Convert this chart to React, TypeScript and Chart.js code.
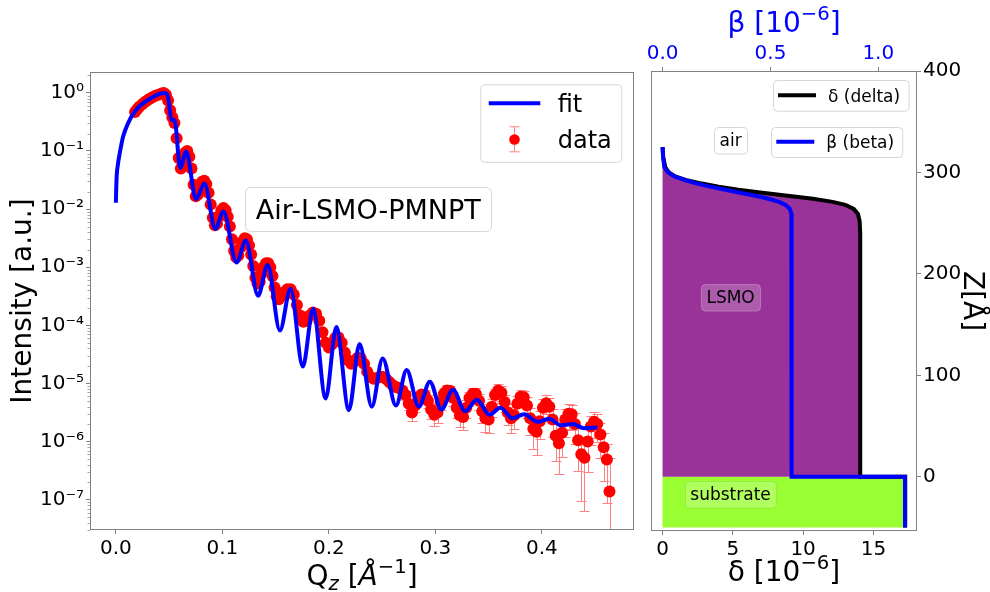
import { useEffect, useRef } from 'react';
import { Chart, registerables } from 'chart.js';

Chart.register(...registerables);

const FONT = "'DejaVu Sans', 'Liberation Sans', sans-serif";
const SPINE = '#808080';
const ERR_COLOR = '#ff8080';
Chart.defaults.font.family = FONT;

// ---------------- Left panel: reflectivity ----------------
const fitQ = [0.0, 0.0006, 0.002, 0.0037, 0.0068, 0.0115, 0.0177, 0.0255, 0.0348, 0.042, 0.046, 0.048, 0.0498, 0.052, 0.0551, 0.0604, 0.066, 0.0753, 0.0831, 0.0934, 0.101, 0.1133, 0.122, 0.1335, 0.1425, 0.154, 0.164, 0.1755, 0.1852, 0.197, 0.207, 0.2188, 0.2288, 0.2403, 0.2505, 0.263, 0.273, 0.2845, 0.2948, 0.3056, 0.3165, 0.328, 0.339, 0.3508, 0.361, 0.3725, 0.3834, 0.3959, 0.4068, 0.4177, 0.4286, 0.4395, 0.452];
const fitLog10I = [-1.89, -1.49, -1.22, -1.03, -0.75, -0.52, -0.32, -0.18, -0.07, -0.01, 0.0, -0.02, -0.17, -0.46, -0.47, -1.29, -1.01, -1.83, -1.56, -2.34, -2.04, -2.92, -2.54, -3.49, -2.96, -4.09, -3.37, -4.71, -3.72, -5.26, -4.03, -5.46, -4.32, -5.40, -4.57, -5.38, -4.77, -5.40, -4.97, -5.45, -5.11, -5.48, -5.28, -5.54, -5.42, -5.60, -5.53, -5.66, -5.61, -5.72, -5.70, -5.77, -5.76];

const dataQ = [
  0.018, 0.020, 0.022, 0.025, 0.028, 0.031, 0.034, 0.037, 0.040, 0.043,
  0.045, 0.047, 0.049, 0.051, 0.053, 0.055, 0.057, 0.059, 0.061, 0.063,
  0.065, 0.067, 0.069, 0.071, 0.073, 0.075, 0.077, 0.079, 0.081, 0.083,
  0.085, 0.087, 0.089, 0.091, 0.093, 0.095, 0.097, 0.099, 0.101, 0.103,
  0.105, 0.107, 0.109, 0.111, 0.113, 0.115, 0.117, 0.119, 0.121, 0.123,
  0.125, 0.127, 0.129, 0.131, 0.133, 0.135, 0.137, 0.139, 0.141, 0.143,
  0.145, 0.147, 0.149, 0.151, 0.153, 0.155, 0.158, 0.161, 0.164, 0.167,
  0.170, 0.173, 0.176, 0.179, 0.182, 0.185, 0.188, 0.191, 0.194, 0.197,
  0.200, 0.203, 0.206, 0.209, 0.212, 0.215, 0.218, 0.221, 0.224, 0.227,
  0.230, 0.233, 0.236, 0.239, 0.242, 0.245, 0.248, 0.251, 0.254, 0.257,
  0.260, 0.263, 0.266, 0.269, 0.272, 0.275, 0.278, 0.281, 0.284, 0.287,
  0.290, 0.293, 0.296, 0.299, 0.302, 0.305, 0.308, 0.311, 0.314, 0.317,
  0.320, 0.323, 0.326, 0.329, 0.332, 0.335, 0.338, 0.341, 0.344, 0.347,
  0.350, 0.353, 0.356, 0.359, 0.362, 0.365, 0.368, 0.371, 0.374, 0.377,
  0.380, 0.383, 0.386, 0.389, 0.392, 0.395, 0.398, 0.401, 0.404, 0.407,
  0.410, 0.413, 0.416, 0.419, 0.422, 0.425, 0.428, 0.431, 0.434, 0.437,
  0.440, 0.443, 0.446, 0.449, 0.452, 0.455, 0.458, 0.461, 0.4635,
];
const dataLog10I = [
  -0.33, -0.28, -0.24, -0.19, -0.15, -0.11, -0.08, -0.05, -0.03, -0.01,
  0.00, -0.03, -0.13, -0.30, -0.42, -0.52, -0.78, -1.12, -1.30, -1.18,
  -1.03, -1.00, -1.10, -1.30, -1.58, -1.78, -1.75, -1.62, -1.53, -1.51,
  -1.57, -1.72, -1.92, -2.15, -2.28, -2.25, -2.12, -2.02, -1.98, -2.02,
  -2.13, -2.30, -2.52, -2.72, -2.83, -2.80, -2.66, -2.56, -2.50, -2.52,
  -2.62, -2.78, -2.98, -3.18, -3.28, -3.25, -3.10, -2.99, -2.93, -2.93,
  -3.00, -3.15, -3.35, -3.50, -3.55, -3.50, -3.43, -3.38, -3.38, -3.47,
  -3.65, -3.83, -3.94, -3.92, -3.83, -3.78, -3.80, -3.92, -4.12, -4.30,
  -4.38, -4.32, -4.22, -4.21, -4.30, -4.47, -4.60, -4.66, -4.62, -4.56,
  -4.57, -4.66, -4.80, -4.89, -4.92, -4.91, -4.88, -4.89, -4.93, -4.98,
  -5.03, -5.06, -5.08, -5.12, -5.20, -5.35, -5.50, -5.38, -5.24, -5.19,
  -5.20, -5.30, -5.45, -5.54, -5.50, -5.32, -5.18, -5.12, -5.13, -5.25,
  -5.42, -5.55, -5.58, -5.42, -5.25, -5.18, -5.18, -5.30, -5.48, -5.60,
  -5.62, -5.40, -5.20, -5.12, -5.16, -5.32, -5.50, -5.60, -5.55, -5.35,
  -5.23, -5.24, -5.38, -5.60, -5.78, -5.83, -5.65, -5.42, -5.34, -5.40,
  -5.62, -5.90, -6.03, -5.85, -5.62, -5.52, -5.53, -5.70, -5.98, -6.22,
  -6.28, -6.00, -5.74, -5.66, -5.70, -5.88, -6.10, -6.31, -6.86,
];
const dataRelErr = [
  0.04, 0.04, 0.04, 0.04, 0.04, 0.04, 0.04, 0.04, 0.04, 0.04,
  0.04, 0.04, 0.04, 0.04, 0.04, 0.04, 0.04, 0.04, 0.04, 0.04,
  0.04, 0.04, 0.04, 0.04, 0.04, 0.04, 0.04, 0.04, 0.04, 0.04,
  0.04, 0.04, 0.04, 0.04, 0.04, 0.04, 0.04, 0.04, 0.04, 0.04,
  0.04, 0.04, 0.04, 0.04, 0.04, 0.04, 0.04, 0.04, 0.04, 0.04,
  0.04, 0.04, 0.04, 0.04, 0.04, 0.04, 0.04, 0.04, 0.04, 0.04,
  0.04, 0.04, 0.04, 0.04, 0.04, 0.04, 0.04, 0.04, 0.04, 0.04,
  0.04, 0.04, 0.04, 0.04, 0.04, 0.04, 0.04, 0.04, 0.04, 0.04,
  0.04, 0.04, 0.04, 0.04, 0.04, 0.04, 0.04, 0.04, 0.04, 0.04,
  0.05, 0.05, 0.05, 0.06, 0.06, 0.06, 0.06, 0.07, 0.08, 0.10,
  0.12, 0.14, 0.15, 0.16, 0.18, 0.22, 0.28, 0.24, 0.20, 0.18,
  0.20, 0.24, 0.30, 0.35, 0.34, 0.28, 0.24, 0.22, 0.22, 0.26,
  0.32, 0.38, 0.40, 0.34, 0.28, 0.26, 0.27, 0.30, 0.36, 0.42,
  0.42, 0.34, 0.28, 0.27, 0.28, 0.33, 0.40, 0.44, 0.42, 0.34,
  0.30, 0.31, 0.38, 0.48, 0.56, 0.60, 0.50, 0.40, 0.36, 0.40,
  0.50, 0.64, 0.70, 0.62, 0.50, 0.45, 0.46, 0.55, 0.70, 0.84,
  0.88, 0.70, 0.52, 0.48, 0.50, 0.60, 0.74, 0.82, 2.70,
];

// ---------------- Right panel: optical profile ----------------
const profileZ = [325, 315, 305, 300, 296, 292, 289, 286, 283, 280, 277, 274, 271, 268, 264, 259, 252, 240, 0, 0, -50];
const deltaProfile = [0, 0.05, 0.2, 0.45, 0.9, 1.8, 2.8, 4.0, 5.4, 7.1, 8.9, 10.7, 12.1, 13.0, 13.6, 13.9, 14.02, 14.06, 14.06, 17.26, 17.26];
const betaProfile = [0, 0.002, 0.008, 0.025, 0.055, 0.11, 0.16, 0.22, 0.29, 0.36, 0.43, 0.49, 0.54, 0.57, 0.59, 0.597, 0.598, 0.598, 0.598, 1.124, 1.124];

// ---------------- helpers ----------------
const SUPER: Record<string, string> = { '-': '⁻', '0': '⁰', '1': '¹', '2': '²', '3': '³', '4': '⁴', '5': '⁵', '6': '⁶', '7': '⁷', '8': '⁸', '9': '⁹' };
const sup = (n: number) => String(n).split('').map((c) => SUPER[c] ?? c).join('');
const isDecade = (v: number) => { const l = Math.log10(v); return Math.abs(l - Math.round(l)) < 1e-6; };
const isLogStep = (v: number) => { const e = Math.floor(Math.log10(v) + 1e-9); const m = v / Math.pow(10, e); return Math.abs(m - Math.round(m)) < 1e-6; };

type Run = { t: string; s: number; it?: boolean; dy?: number };
function drawRuns(ctx: CanvasRenderingContext2D, runs: Run[], cx: number, by: number, rot: number, color: string) {
  ctx.save();
  ctx.translate(cx, by);
  ctx.rotate(rot);
  ctx.fillStyle = color;
  ctx.textBaseline = 'alphabetic';
  ctx.textAlign = 'left';
  const fontOf = (r: Run) => `${r.it ? 'italic ' : ''}${r.s}px ${FONT}`;
  const ws = runs.map((r) => { ctx.font = fontOf(r); return ctx.measureText(r.t).width; });
  let x = -ws.reduce((a, b) => a + b, 0) / 2;
  runs.forEach((r, i) => { ctx.font = fontOf(r); ctx.fillText(r.t, x, r.dy || 0); x += ws[i]; });
  ctx.restore();
}

function roundBox(ctx: CanvasRenderingContext2D, x: number, y: number, w: number, h: number, r: number, fill: string, stroke: string) {
  ctx.beginPath();
  ctx.moveTo(x + r, y);
  ctx.lineTo(x + w - r, y);
  ctx.arcTo(x + w, y, x + w, y + r, r);
  ctx.lineTo(x + w, y + h - r);
  ctx.arcTo(x + w, y + h, x + w - r, y + h, r);
  ctx.lineTo(x + r, y + h);
  ctx.arcTo(x, y + h, x, y + h - r, r);
  ctx.lineTo(x, y + r);
  ctx.arcTo(x, y, x + r, y, r);
  ctx.closePath();
  if (fill) { ctx.fillStyle = fill; ctx.fill(); }
  if (stroke) { ctx.strokeStyle = stroke; ctx.lineWidth = 1; ctx.stroke(); }
}

const tickGrid = (color: any) => ({ display: true, drawOnChartArea: false, drawTicks: true, tickLength: 4, tickColor: color, tickWidth: 1 });

function buildLeft(canvas: HTMLCanvasElement) {
  const fitPts = fitQ.map((q, i) => ({ x: q, y: Math.pow(10, fitLog10I[i]) }));
  const dataPts = dataQ.map((q, i) => ({ x: q, y: Math.pow(10, dataLog10I[i]) }));

  const errorBars = {
    id: 'errorBars',
    beforeDatasetDraw(chart: any, args: any) {
      if (args.index !== 1) return;
      const { ctx, chartArea: a } = chart;
      const xs = chart.scales.x, ys = chart.scales.y;
      ctx.save();
      ctx.beginPath();
      ctx.rect(a.left, a.top, a.right - a.left, a.bottom - a.top);
      ctx.clip();
      ctx.strokeStyle = ERR_COLOR;
      ctx.lineWidth = 1;
      dataPts.forEach((p, i) => {
        const e = p.y * dataRelErr[i];
        const px = Math.round(xs.getPixelForValue(p.x)) + 0.5;
        const hasLo = p.y - e > 0;
        const lo = hasLo ? Math.round(ys.getPixelForValue(p.y - e)) + 0.5 : a.bottom + 20;
        const hi = Math.round(ys.getPixelForValue(p.y + e)) + 0.5;
        ctx.beginPath();
        ctx.moveTo(px, lo); ctx.lineTo(px, hi);
        ctx.moveTo(px - 5, hi); ctx.lineTo(px + 5, hi);
        if (hasLo) { ctx.moveTo(px - 5, lo); ctx.lineTo(px + 5, lo); }
        ctx.stroke();
      });
      ctx.restore();
    },
  };

  const decor = {
    id: 'decorLeft',
    afterDraw(chart: any) {
      const { ctx, chartArea: a } = chart;
      const xs = chart.scales.x, ys = chart.scales.y;
      ctx.save();
      // minor log ticks
      ctx.strokeStyle = SPINE;
      ctx.lineWidth = 0.7;
      for (const t of ys.ticks) {
        if (isDecade(t.value) || !isLogStep(t.value)) continue;
        const py = Math.round(ys.getPixelForValue(t.value)) + 0.5;
        ctx.beginPath(); ctx.moveTo(a.left - 2.5, py); ctx.lineTo(a.left, py); ctx.stroke();
      }
      // frame
      ctx.lineWidth = 1;
      ctx.strokeRect(a.left + 0.5, a.top + 0.5, a.right - a.left - 1, a.bottom - a.top - 1);

      // legend
      const lx = a.right - 153.7, ly = a.top + 12.3;
      roundBox(ctx, lx + 0.5, ly + 0.5, 141, 77.5, 4, 'rgba(255,255,255,0.8)', '#d6d6d6');
      ctx.strokeStyle = '#0000ff'; ctx.lineWidth = 4;
      ctx.beginPath(); ctx.moveTo(lx + 8.4, ly + 19); ctx.lineTo(lx + 60, ly + 19); ctx.stroke();
      ctx.strokeStyle = ERR_COLOR; ctx.lineWidth = 1;
      const mx = Math.round(lx + 34) + 0.5;
      ctx.beginPath();
      ctx.moveTo(mx, ly + 42.5); ctx.lineTo(mx, ly + 67.5);
      ctx.moveTo(mx - 5, ly + 42.5); ctx.lineTo(mx + 5, ly + 42.5);
      ctx.moveTo(mx - 5, ly + 67.5); ctx.lineTo(mx + 5, ly + 67.5);
      ctx.stroke();
      ctx.fillStyle = '#ff0000';
      ctx.beginPath(); ctx.arc(mx, ly + 55.2, 5.3, 0, Math.PI * 2); ctx.fill();
      ctx.fillStyle = '#000';
      ctx.font = `24px ${FONT}`;
      ctx.textAlign = 'left'; ctx.textBaseline = 'alphabetic';
      ctx.fillText('fit', lx + 77.4, ly + 27.4);
      ctx.fillText('data', lx + 77.4, ly + 64);

      // sample label
      const label = 'Air-LSMO-PMNPT';
      ctx.font = `27px ${FONT}`;
      const tw = ctx.measureText(label).width;
      const cx = xs.getPixelForValue(0.237), cy = ys.getPixelForValue(0.01);
      roundBox(ctx, Math.round(cx - tw / 2 - 10.5) + 0.5, Math.round(cy - 22) + 0.5, Math.round(tw + 21), 44, 5, 'rgba(255,255,255,0.9)', '#d6d6d6');
      ctx.fillStyle = '#000';
      ctx.textAlign = 'center';
      ctx.fillText(label, cx, cy + 9.8);

      // axis titles
      drawRuns(ctx, [{ t: 'Intensity [a.u.]', s: 28 }], 31.3, (a.top + a.bottom) / 2, -Math.PI / 2, '#000');
      drawRuns(ctx, [
        { t: 'Q', s: 28 }, { t: 'z', s: 19.6, it: true, dy: 5 }, { t: ' [', s: 28 },
        { t: 'Å', s: 28, it: true }, { t: '−1', s: 19.6, dy: -12 }, { t: ']', s: 28 },
      ], (a.left + a.right) / 2, 585, 0, '#000');
      ctx.restore();
    },
  };

  return new Chart(canvas, {
    type: 'line',
    data: {
      datasets: [
        { label: 'fit', data: fitPts, borderColor: '#0000ff', borderWidth: 4, pointRadius: 0, cubicInterpolationMode: 'monotone', fill: false, order: 0, borderJoinStyle: 'round' } as any,
        { label: 'data', data: dataPts, showLine: false, pointRadius: 6, pointBackgroundColor: '#ff0000', pointBorderColor: '#ff0000', pointBorderWidth: 0, order: 1 } as any,
      ],
    },
    options: {
      animation: false,
      responsive: false,
      devicePixelRatio: 1,
      events: [],
      layout: { padding: { left: 0, top: 72, right: 3, bottom: 0 } },
      plugins: { legend: { display: false }, tooltip: { enabled: false } },
      scales: {
        x: {
          type: 'linear', min: -0.0243, max: 0.4865,
          afterFit: (s: any) => { s.height = 62; },
          ticks: { stepSize: 0.1, includeBounds: false, maxRotation: 0, padding: 3, color: '#000', font: { size: 20, family: FONT }, callback: (v: any) => Number(v).toFixed(1) },
          grid: tickGrid(SPINE),
          border: { display: false },
        },
        y: {
          type: 'logarithmic', min: 3.29e-8, max: 2.289,
          afterFit: (s: any) => { s.width = 90; },
          ticks: {
            autoSkip: false, padding: 2, color: '#000', font: { size: 20, family: FONT },
            callback: (v: any) => { const n = Number(v); if (isDecade(n)) return '10' + sup(Math.round(Math.log10(n))); return isLogStep(n) ? '' : null; },
          },
          grid: tickGrid((c: any) => (c.tick && isDecade(c.tick.value) ? SPINE : 'rgba(0,0,0,0)')),
          border: { display: false },
        },
      },
    } as any,
    plugins: [errorBars, decor],
  });
}

function buildRight(canvas: HTMLCanvasElement) {
  const ifIdx = profileZ.indexOf(0);
  const last = profileZ.length - 1;
  const deltaPts = profileZ.map((z, i) => ({ x: deltaProfile[i], y: z }));
  const betaPts = profileZ.map((z, i) => ({ x: betaProfile[i], y: z }));
  const lsmoPoly = [{ x: 0, y: profileZ[ifIdx] }, ...deltaPts.slice(0, ifIdx + 1)];
  const subPoly = [
    { x: 0, y: profileZ[ifIdx] }, { x: 0, y: profileZ[last] },
    { x: deltaProfile[last], y: profileZ[last] }, { x: deltaProfile[last], y: profileZ[ifIdx] },
  ];

  const legendEntry = (ctx: CanvasRenderingContext2D, x: number, y: number, w: number, h: number, color: string, label: string) => {
    roundBox(ctx, Math.round(x) + 0.5, Math.round(y) + 0.5, w, h, 4, 'rgba(255,255,255,0.8)', '#d6d6d6');
    ctx.strokeStyle = color; ctx.lineWidth = 4;
    ctx.beginPath(); ctx.moveTo(x + 5.3, y + h / 2); ctx.lineTo(x + 43.3, y + h / 2); ctx.stroke();
    ctx.fillStyle = '#000'; ctx.font = `17px ${FONT}`; ctx.textAlign = 'left'; ctx.textBaseline = 'alphabetic';
    ctx.fillText(label, x + 55.3, y + h / 2 + 6.3);
  };
  const annot = (ctx: CanvasRenderingContext2D, text: string, cx: number, cy: number, fill: string, stroke: string) => {
    ctx.font = `17px ${FONT}`;
    const w = ctx.measureText(text).width + 11;
    const h = 26.6;
    roundBox(ctx, Math.round(cx - w / 2) + 0.5, Math.round(cy - h / 2) + 0.5, Math.round(w), h, 4, fill, stroke);
    ctx.fillStyle = '#000'; ctx.textAlign = 'center'; ctx.textBaseline = 'alphabetic';
    ctx.fillText(text, cx, cy + 6);
  };

  const decor = {
    id: 'decorRight',
    afterDraw(chart: any) {
      const { ctx, chartArea: a } = chart;
      const xs = chart.scales.x, ys = chart.scales.y;
      ctx.save();
      ctx.strokeStyle = SPINE; ctx.lineWidth = 1;
      ctx.strokeRect(a.left + 0.5, a.top + 0.5, a.right - a.left - 1, a.bottom - a.top - 1);

      legendEntry(ctx, a.right - 144.3, a.top + 9, 135.6, 30.7, '#000000', 'δ (delta)');
      legendEntry(ctx, a.right - 146, a.top + 55.7, 131.3, 30, '#0000ff', 'β (beta)');

      const ax = xs.getPixelForValue(4.84);
      annot(ctx, 'air', ax, ys.getPixelForValue(331.5), 'rgba(255,255,255,0.85)', '#d6d6d6');
      annot(ctx, 'LSMO', ax, ys.getPixelForValue(177.3), 'rgba(255,255,255,0.2)', 'rgba(255,255,255,0.25)');
      annot(ctx, 'substrate', ax, ys.getPixelForValue(-17.5), 'rgba(255,255,255,0.22)', 'rgba(0,0,0,0.08)');

      const mid = (a.left + a.right) / 2;
      drawRuns(ctx, [{ t: 'β [10', s: 28 }, { t: '−6', s: 19.6, dy: -12 }, { t: ']', s: 28 }], mid, 32, 0, '#0000ff');
      drawRuns(ctx, [{ t: 'δ [10', s: 28 }, { t: '−6', s: 19.6, dy: -12 }, { t: ']', s: 28 }], mid, 581, 0, '#000');
      drawRuns(ctx, [{ t: 'Z[Å]', s: 28 }], 324, (a.top + a.bottom) / 2, Math.PI / 2, '#000');
      ctx.restore();
    },
  };

  return new Chart(canvas, {
    type: 'line',
    data: {
      datasets: [
        { label: 'β (beta)', data: betaPts, xAxisID: 'xb', yAxisID: 'y', borderColor: '#0000ff', borderWidth: 4, pointRadius: 0, fill: false, order: 0 },
        { label: 'δ (delta)', data: deltaPts, xAxisID: 'x', yAxisID: 'y', borderColor: '#000000', borderWidth: 4, pointRadius: 0, fill: false, order: 1 },
        { label: 'LSMO', data: lsmoPoly, xAxisID: 'x', yAxisID: 'y', borderColor: 'rgba(0,0,0,0)', borderWidth: 0, backgroundColor: '#993399', pointRadius: 0, fill: 'shape', order: 2 },
        { label: 'substrate', data: subPoly, xAxisID: 'x', yAxisID: 'y', borderColor: 'rgba(0,0,0,0)', borderWidth: 0, backgroundColor: '#99ff33', pointRadius: 0, fill: 'shape', order: 3 },
      ] as any,
    },
    options: {
      animation: false,
      responsive: false,
      devicePixelRatio: 1,
      events: [],
      layout: { padding: { left: 11, top: 0, right: 0, bottom: 0 } },
      plugins: { legend: { display: false }, tooltip: { enabled: false } },
      scales: {
        x: {
          type: 'linear', position: 'bottom', min: -0.82, max: 18.1,
          afterFit: (s: any) => { s.height = 61; },
          ticks: { stepSize: 5, includeBounds: false, maxRotation: 0, padding: 3, color: '#000', font: { size: 20, family: FONT }, callback: (v: any) => String(Math.round(Number(v))) },
          grid: tickGrid(SPINE),
          border: { display: false },
        },
        xb: {
          type: 'linear', position: 'top', min: -0.054, max: 1.1795,
          afterFit: (s: any) => { s.height = 71; },
          ticks: { stepSize: 0.5, includeBounds: false, maxRotation: 0, padding: 1, color: '#0000ff', font: { size: 20, family: FONT }, callback: (v: any) => Number(v).toFixed(1) },
          grid: tickGrid(SPINE),
          border: { display: false },
        },
        y: {
          type: 'linear', position: 'right', min: -53.5, max: 400,
          afterFit: (s: any) => { s.width = 73; },
          ticks: { stepSize: 100, includeBounds: false, padding: 2, color: '#000', font: { size: 20, family: FONT }, callback: (v: any) => String(Math.round(Number(v))) },
          grid: tickGrid(SPINE),
          border: { display: false },
        },
      },
    } as any,
    plugins: [decor],
  });
}

export default function App() {
  const leftRef = useRef<HTMLCanvasElement>(null);
  const rightRef = useRef<HTMLCanvasElement>(null);
  useEffect(() => {
    const l = buildLeft(leftRef.current as HTMLCanvasElement);
    const r = buildRight(rightRef.current as HTMLCanvasElement);
    return () => { l.destroy(); r.destroy(); };
  }, []);
  return (
    <div style={{ position: 'absolute', left: 0, top: 0, width: 990, height: 592, background: '#ffffff', overflow: 'hidden' }}>
      <canvas ref={leftRef} width={640} height={592} style={{ position: 'absolute', left: 0, top: 0, width: 640, height: 592 }} />
      <canvas ref={rightRef} width={350} height={592} style={{ position: 'absolute', left: 640, top: 0, width: 350, height: 592 }} />
    </div>
  );
}
